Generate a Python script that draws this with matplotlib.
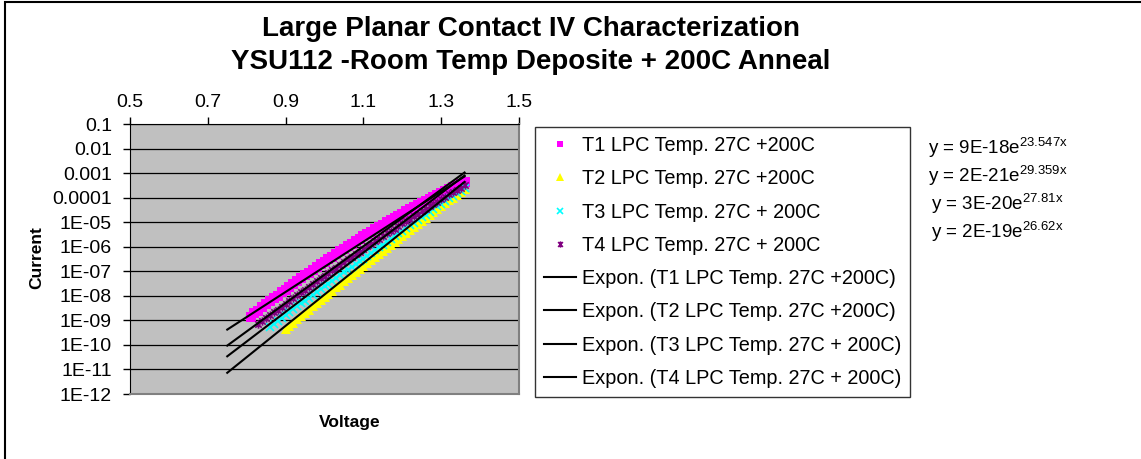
import matplotlib
matplotlib.use("Agg")
import matplotlib.pyplot as plt
import numpy as np
from matplotlib.path import Path
from matplotlib.patches import Rectangle
from matplotlib.ticker import FixedLocator, FixedFormatter, NullLocator

plt.rcParams["font.family"] = ["Liberation Sans", "DejaVu Sans"]

# voltage sweep shared by all four contacts (V)
sweep_v = [0.81, 0.82, 0.83, 0.84, 0.85, 0.86, 0.87, 0.88, 0.89, 0.90,
           0.91, 0.92, 0.93, 0.94, 0.95, 0.96, 0.97, 0.98, 0.99, 1.00,
           1.01, 1.02, 1.03, 1.04, 1.05, 1.06, 1.07, 1.08, 1.09, 1.10,
           1.11, 1.12, 1.13, 1.14, 1.15, 1.16, 1.17, 1.18, 1.19, 1.20,
           1.21, 1.22, 1.23, 1.24, 1.25, 1.26, 1.27, 1.28, 1.29, 1.30,
           1.31, 1.32, 1.33, 1.34, 1.35, 1.36]

# log10 of measured current (A); each series covers the tail end of the sweep
t1_log_i = [-8.85, -8.72, -8.60, -8.47, -8.35, -8.23, -8.10, -7.99, -7.86, -7.75,
            -7.63, -7.51, -7.39, -7.28, -7.16, -7.05, -6.94, -6.83, -6.72, -6.61,
            -6.51, -6.40, -6.29, -6.18, -6.08, -5.98, -5.88, -5.78, -5.68, -5.58,
            -5.48, -5.38, -5.29, -5.19, -5.10, -5.01, -4.92, -4.82, -4.73, -4.65,
            -4.56, -4.47, -4.39, -4.30, -4.22, -4.13, -4.06, -3.97, -3.90, -3.81,
            -3.74, -3.65, -3.58, -3.51, -3.43, -3.36]
t2_log_i = [-9.35, -9.22, -9.09, -8.96, -8.82, -8.69, -8.56, -8.43, -8.31, -8.18,
            -8.05, -7.92, -7.79, -7.66, -7.54, -7.41, -7.28, -7.16, -7.03, -6.90,
            -6.78, -6.65, -6.53, -6.41, -6.28, -6.16, -6.04, -5.91, -5.79, -5.67,
            -5.55, -5.43, -5.30, -5.18, -5.06, -4.94, -4.82, -4.70, -4.59, -4.47,
            -4.35, -4.23, -4.11, -4.00, -3.88, -3.76, -3.65]
t3_log_i = [-9.25, -9.13, -9.01, -8.90, -8.78, -8.66, -8.55, -8.43, -8.31, -8.20,
            -8.08, -7.96, -7.85, -7.73, -7.62, -7.50, -7.39, -7.27, -7.16, -7.04,
            -6.93, -6.82, -6.70, -6.59, -6.48, -6.36, -6.25, -6.14, -6.02, -5.91,
            -5.80, -5.69, -5.58, -5.46, -5.35, -5.24, -5.13, -5.02, -4.91, -4.80,
            -4.69, -4.58, -4.47, -4.36, -4.25, -4.14, -4.03, -3.92, -3.82, -3.71,
            -3.60]
t4_log_i = [-9.15, -9.03, -8.91, -8.79, -8.67, -8.56, -8.44, -8.32, -8.21, -8.09,
            -7.98, -7.86, -7.75, -7.63, -7.52, -7.41, -7.29, -7.18, -7.07, -6.96,
            -6.85, -6.74, -6.63, -6.52, -6.41, -6.31, -6.20, -6.09, -5.99, -5.88,
            -5.78, -5.67, -5.57, -5.46, -5.36, -5.26, -5.15, -5.05, -4.95, -4.85,
            -4.75, -4.65, -4.55, -4.45, -4.35, -4.26, -4.16, -4.06, -3.97, -3.87,
            -3.78, -3.68, -3.59, -3.49]

series_names = ["T1 LPC Temp. 27C +200C", "T2 LPC Temp. 27C +200C",
                "T3 LPC Temp. 27C + 200C", "T4 LPC Temp. 27C + 200C"]

# exponential trendlines y = a * exp(b * x)
fit_a = [9e-18, 2e-21, 3e-20, 2e-19]
fit_b = [23.547, 29.359, 27.81, 26.62]
fit_start, fit_end = 0.75, 1.36

x_ticks = [0.5, 0.7, 0.9, 1.1, 1.3, 1.5]
y_ticks = [1e-12, 1e-11, 1e-10, 1e-9, 1e-8, 1e-7, 1e-6, 1e-5, 1e-4, 1e-3, 1e-2, 1e-1]
y_tick_labels = ["1E-12", "1E-11", "1E-10", "1E-09", "1E-08", "1E-07", "1E-06",
                 "1E-05", "0.0001", "0.001", "0.01", "0.1"]

# Excel-style star: an X with a vertical bar through it
star = Path([(-1, -1), (1, 1), (-1, 1), (1, -1), (0, -1.3), (0, 1.3)],
            [Path.MOVETO, Path.LINETO, Path.MOVETO, Path.LINETO, Path.MOVETO, Path.LINETO])
styles = [
    dict(marker="s", color="#FF00FF", markersize=6.5, markeredgewidth=0),
    dict(marker="^", color="#FFFF00", markersize=7.5, markeredgewidth=0),
    dict(marker="x", color="#00FFFF", markersize=6, markeredgewidth=1.2),
    dict(marker=star, color="#800080", markersize=6, markeredgewidth=1.2),
]

W, H = 1141, 459
fig = plt.figure(figsize=(W / 100, H / 100), dpi=100)
fig.patches.append(Rectangle((5 / W, -0.1), 1.2, 1.1 - 2 / H, transform=fig.transFigure,
                             fill=False, edgecolor="black", linewidth=1.5))

ax = fig.add_axes([130 / W, 1 - 394 / H, 389 / W, 270 / H])
ax.set_facecolor("#C0C0C0")

handles = []
for log_i, name, st in zip([t1_log_i, t2_log_i, t3_log_i, t4_log_i], series_names, styles):
    v = np.array(sweep_v[-len(log_i):])
    h, = ax.plot(v, 10 ** np.array(log_i), linestyle="none", label=name, zorder=3, **st)
    handles.append(h)

fit_v = np.linspace(fit_start, fit_end, 200)
for a, b, name in zip(fit_a, fit_b, series_names):
    h, = ax.plot(fit_v, a * np.exp(b * fit_v), color="black", linewidth=1.5, zorder=4,
                 label=f"Expon. ({name})")
    handles.append(h)

ax.set_yscale("log")
ax.set_xlim(0.5, 1.5)
ax.set_ylim(1e-12, 0.1)
ax.yaxis.set_major_locator(FixedLocator(y_ticks))
ax.yaxis.set_major_formatter(FixedFormatter(y_tick_labels))
ax.yaxis.set_minor_locator(NullLocator())
ax.set_xticks(x_ticks)
ax.set_xticklabels([f"{t:.1f}" for t in x_ticks])
ax.xaxis.tick_top()
ax.tick_params(axis="both", labelsize=14, length=5, width=1, color="black")
ax.tick_params(axis="x", pad=4.5)
ax.tick_params(axis="y", pad=8)
ax.grid(axis="y", color="black", linewidth=0.9)
ax.set_axisbelow(True)
for side in ["left", "top"]:
    ax.spines[side].set_color("black")
for side in ["right", "bottom"]:
    ax.spines[side].set_color("#808080")
    ax.spines[side].set_linewidth(1.5)

fig.text(531 / W, 1 - 29 / H, "Large Planar Contact IV Characterization",
         ha="center", va="center", fontsize=20, fontweight="bold")
fig.text(531 / W, 1 - 62 / H, "YSU112 -Room Temp Deposite + 200C Anneal",
         ha="center", va="center", fontsize=20, fontweight="bold")
fig.text(37 / W, 1 - 258 / H, "Current", rotation=90, ha="center", va="center",
         fontsize=12.5, fontweight="bold")
fig.text(350 / W, 1 - 423 / H, "Voltage", ha="center", va="center",
         fontsize=12.5, fontweight="bold")

leg = fig.legend(handles, [h.get_label() for h in handles], loc="upper left",
                 bbox_to_anchor=(535 / W, 1 - 127 / H), borderaxespad=0,
                 fontsize=14.3, frameon=True, fancybox=False, edgecolor="black",
                 handlelength=1.6, handletextpad=0.3, labelspacing=0.72,
                 borderpad=0.45, markerscale=0.75)
leg.get_frame().set_linewidth(1.0)

eq_x = [928, 928, 931, 931]
eq_y = [148, 176, 204, 232]
for a, b, x, y in zip(fit_a, fit_b, eq_x, eq_y):
    fig.text(x / W, 1 - y / H, f"y = {a:.0E}e" + r"$^{\mathregular{" + f"{b}x" + r"}}$",
             ha="left", va="center", fontsize=13.5)

fig.savefig("out.png", dpi=100)
